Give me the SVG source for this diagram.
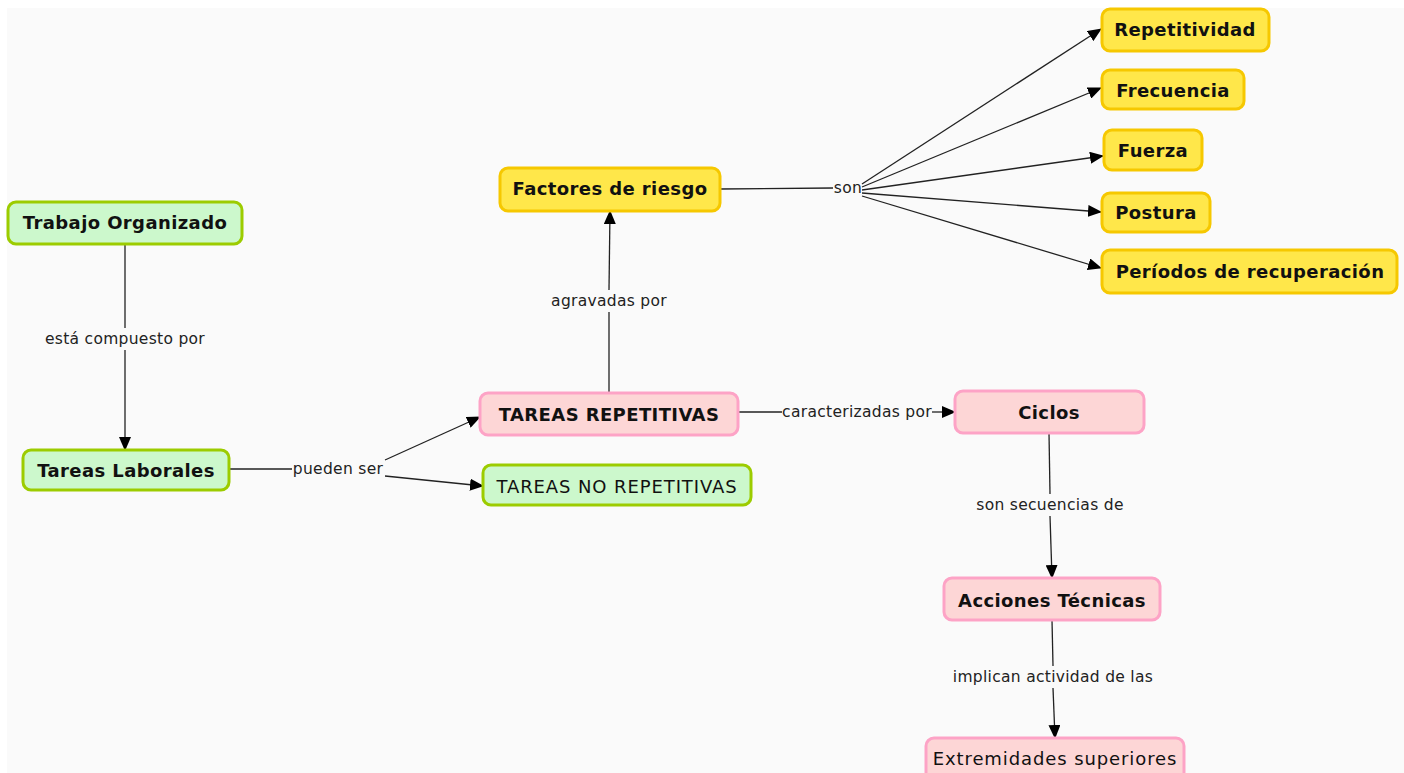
<svg xmlns="http://www.w3.org/2000/svg" width="1404" height="773" viewBox="0 0 1404 773">
<defs>
<style>
.g rect{fill:#ccf8cc;stroke:#9ccc00;stroke-width:3}
.p rect{fill:#fdd6d6;stroke:#fda3c6;stroke-width:3}
.y rect{fill:#ffe74a;stroke:#f6c800;stroke-width:3}
.n text{font-family:"DejaVu Sans",Verdana,sans-serif;font-size:18px;font-weight:bold;letter-spacing:0.4px;fill:#111;text-anchor:middle;dominant-baseline:central}
.n text.r{font-weight:normal;letter-spacing:0.9px}
.c path{fill:none;stroke:#222;stroke-width:1.3}
.c text{font-family:"DejaVu Sans",Verdana,sans-serif;font-size:15.5px;letter-spacing:0.3px;fill:#222;text-anchor:middle;dominant-baseline:central}
.c rect{fill:#fafafa}
</style>
<marker id="a" markerUnits="userSpaceOnUse" markerWidth="14" markerHeight="12" refX="13" refY="6" orient="auto">
<path d="M0,0 L14,6 L0,12 Z" fill="#000"/>
</marker>
</defs>
<rect width="1404" height="773" fill="#ffffff"/>
<rect x="7" y="8" width="1397" height="765" fill="#fafafa"/>
<g class="c" id="connectors">
<path d="M125,244 V328"/><path d="M125,350 V450" marker-end="url(#a)"/>
<text x="125" y="339">está compuesto por</text>
<path d="M229,469 H292"/>
<path d="M385,460 L480,417" marker-end="url(#a)"/>
<path d="M385,476 L483,486" marker-end="url(#a)"/>
<text x="338" y="469">pueden ser</text>
<path d="M609,393 V312"/><path d="M609,290 L610,211" marker-end="url(#a)"/>
<text x="609" y="301">agravadas por</text>
<path d="M738,412 H782"/><path d="M932,412 H955" marker-end="url(#a)"/>
<text x="857" y="412">caracterizadas por</text>
<path d="M1049,433 L1050,494"/><path d="M1050,516 L1052,578" marker-end="url(#a)"/>
<text x="1050" y="505">son secuencias de</text>
<path d="M1052,620 L1053,666"/><path d="M1053,688 L1055,738" marker-end="url(#a)"/>
<text x="1053" y="677">implican actividad de las</text>
<path d="M720,189 L833,188"/>
<text x="848" y="188">son</text>
<path d="M862,184 L1101,29" marker-end="url(#a)"/>
<path d="M862,187 L1101,88" marker-end="url(#a)"/>
<path d="M862,190 L1103,156" marker-end="url(#a)"/>
<path d="M862,193 L1101,212" marker-end="url(#a)"/>
<path d="M862,196 L1101,268" marker-end="url(#a)"/>
</g>
<g id="trabajo" class="n g"><rect x="8" y="202" width="234" height="42" rx="8"/><text x="125" y="222">Trabajo Organizado</text></g>
<g id="tareas-laborales" class="n g"><rect x="23" y="450" width="206" height="40" rx="8"/><text x="126" y="470">Tareas Laborales</text></g>
<g id="tareas-repetitivas" class="n p"><rect x="480" y="393" width="258" height="42" rx="8"/><text x="609" y="414">TAREAS REPETITIVAS</text></g>
<g id="tareas-no-repetitivas" class="n g"><rect x="483" y="465" width="268" height="40" rx="8"/><text class="r" x="617" y="486">TAREAS NO REPETITIVAS</text></g>
<g id="ciclos" class="n p"><rect x="955" y="391" width="189" height="42" rx="8"/><text x="1049" y="412">Ciclos</text></g>
<g id="acciones" class="n p"><rect x="944" y="578" width="216" height="42" rx="8"/><text x="1052" y="600">Acciones Técnicas</text></g>
<g id="extremidades" class="n p"><rect x="926" y="738" width="258" height="44" rx="8"/><text class="r" x="1055" y="758">Extremidades superiores</text></g>
<g id="factores" class="n y"><rect x="500" y="168" width="220" height="43" rx="8"/><text x="610" y="188">Factores de riesgo</text></g>
<g id="repetitividad" class="n y"><rect x="1102" y="9" width="167" height="42" rx="8"/><text x="1185" y="29">Repetitividad</text></g>
<g id="frecuencia" class="n y"><rect x="1102" y="70" width="142" height="39" rx="8"/><text x="1173" y="90">Frecuencia</text></g>
<g id="fuerza" class="n y"><rect x="1104" y="130" width="98" height="40" rx="8"/><text x="1153" y="150">Fuerza</text></g>
<g id="postura" class="n y"><rect x="1102" y="193" width="108" height="39" rx="8"/><text x="1156" y="212">Postura</text></g>
<g id="periodos" class="n y"><rect x="1102" y="250" width="295" height="43" rx="8"/><text x="1250" y="271">Períodos de recuperación</text></g>
</svg>
